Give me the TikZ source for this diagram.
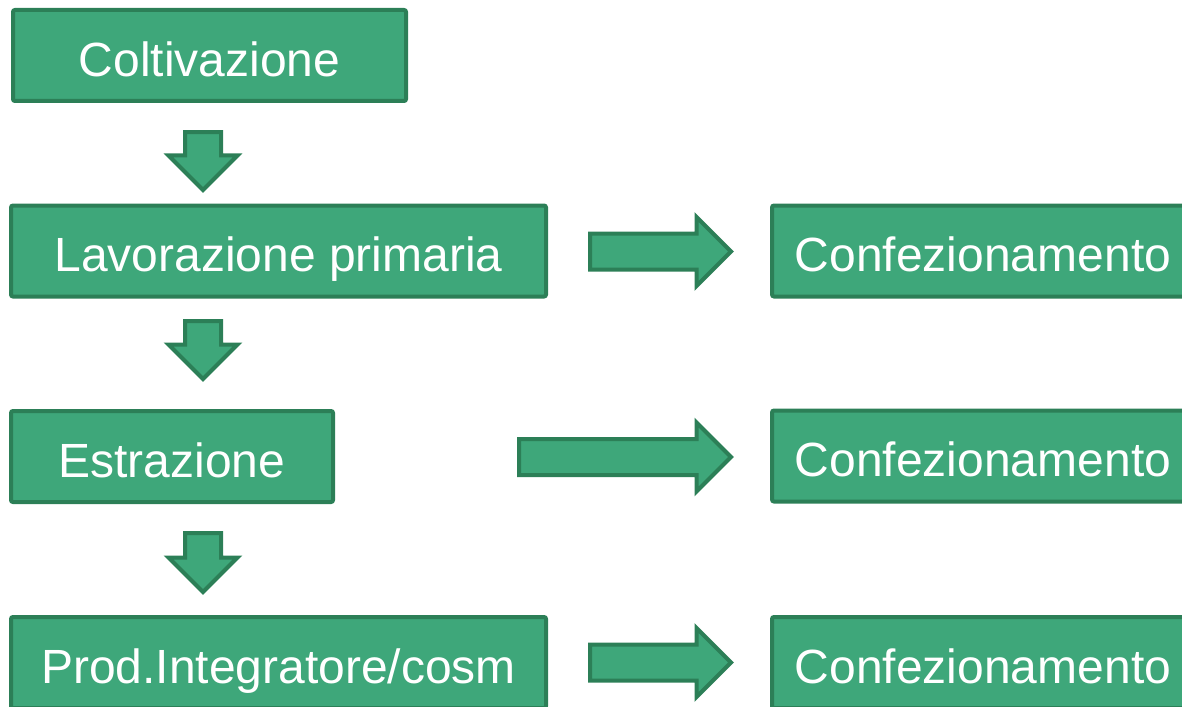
\documentclass[tikz,border=0pt]{standalone}
\usepackage{fontspec}
\setmainfont{Liberation Sans}
\usepackage{tikz}
\usetikzlibrary{shapes,arrows.meta}
\usetikzlibrary{positioning}
\definecolor{boxgreen}{RGB}{62,167,122}
\definecolor{edgegreen}{RGB}{44,127,87}
\tikzstyle{stage}=[draw=edgegreen,fill=boxgreen,line width=2pt,rectangle,rounded corners=1pt,inner sep=0pt,text=white,font=\fontsize{24}{28}\selectfont,text height=20.5pt,text depth=0pt,minimum height=45.5pt]
\tikzstyle{fat}=[draw=edgegreen,fill=boxgreen,line width=2pt,single arrow,single arrow head extend=8.25pt,single arrow head indent=0pt,inner sep=8pt,anchor=tail]

\begin{document}
\begin{tikzpicture}[x=0.5pt,y=-0.5pt]
\useasboundingbox (0,0) rectangle (1182,706);
\clip (0,0) rectangle (1182,706);

\node [stage,minimum width=196.5pt] (colt) at (209.5,55.5) {Coltivazione};
\node [stage,minimum width=267.5pt] (lav) at (278.5,251) {Lavorazione primaria};
\node [stage,minimum width=161pt] (estr) at (172,456.5) {Estrazione};
\node [stage,minimum width=267.5pt] (prod) at (278.5,662.5) {Prod.Integratore/cosm};

\node [stage,minimum width=211pt] (conf1) at (983,251) {Confezionamento};
\node [stage,minimum width=211pt] (conf2) at (983,456) {Confezionamento};
\node [stage,minimum width=211pt] (conf3) at (983,662.5) {Confezionamento};

% down arrows
\node [fat,rotate=-90,minimum height=29pt] (d1) at (203,130) {};
\node [fat,rotate=-90,minimum height=29pt] (d2) at (203,319) {};
\node [fat,rotate=-90,minimum height=29.5pt] (d3) at (203,531) {};

% right arrows
\node [fat,minimum height=70.5pt] (r1) at (588,251.5) {};
\node [fat,minimum height=106pt] (r2) at (517,457) {};
\node [fat,minimum height=70.5pt] (r3) at (588,662.5) {};
\end{tikzpicture}
\end{document}
